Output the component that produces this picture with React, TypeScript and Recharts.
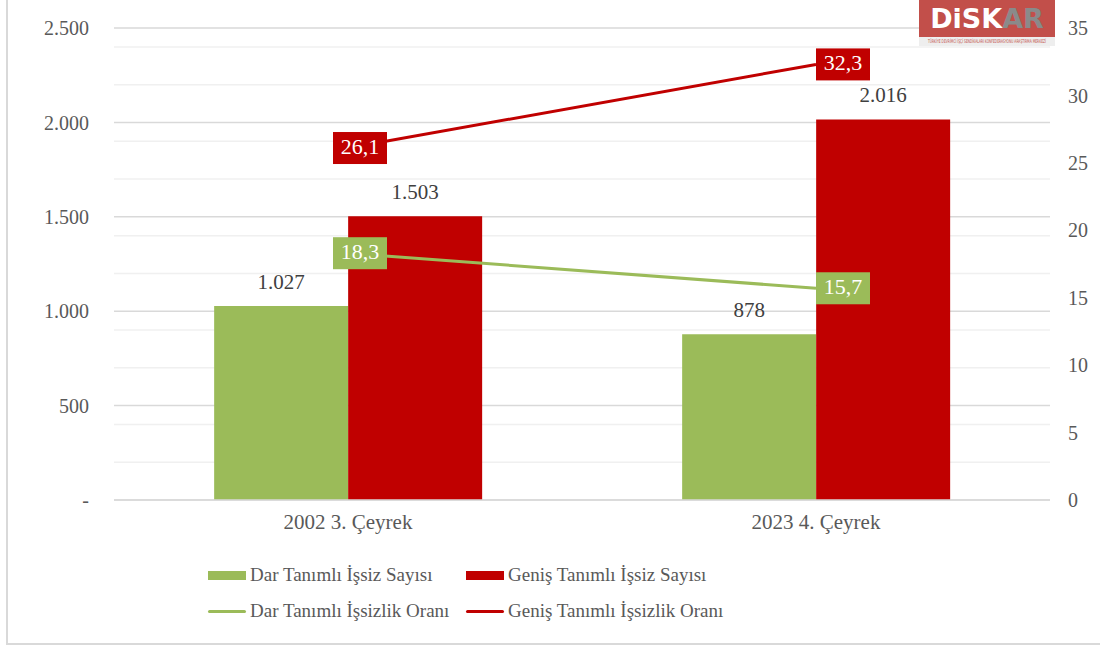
import React from 'react';
import { ComposedChart, Bar, Line, XAxis, YAxis, CartesianGrid, LabelList } from 'recharts';

const categories = ['2002 3. Çeyrek', '2023 4. Çeyrek'];
const darSayisi = [1027, 878];
const genisSayisi = [1503, 2016];
const darOrani = [18.3, 15.7];
const genisOrani = [26.1, 32.3];
const leftTicks = [0, 500, 1000, 1500, 2000, 2500];
const minorTicks = [100, 200, 300, 400, 600, 700, 800, 900, 1100, 1200, 1300, 1400, 1600, 1700, 1800, 1900, 2100, 2200, 2300, 2400];
const rightTicks = [0, 5, 10, 15, 20, 25, 30, 35];

const data = categories.map((c, i) => ({
  cat: c,
  darSayisi: darSayisi[i],
  genisSayisi: genisSayisi[i],
  darOrani: darOrani[i],
  genisOrani: genisOrani[i],
}));

const GREEN = '#9bbb59';
const RED = '#c00000';
const FONT = 'Liberation Serif, serif';
const TXT = '#595959';

const fmtThousands = (v: number) => (v === 0 ? '-' : String(v).replace(/\B(?=(\d{3})+(?!\d))/g, '.'));
const fmtDec = (v: number) => String(v).replace('.', ',');

const makeLineLabel = (fill: string) => (props: any) => {
  const { x, y, value, index } = props;
  const w = 54;
  const h = 32;
  const cx = x + (index === 0 ? 12 : 27);
  return (
    <g>
      <rect x={cx - w / 2} y={y - h / 2} width={w} height={h} fill={fill} />
      <text x={cx} y={y + 1} textAnchor="middle" dominantBaseline="middle" fill="#ffffff" fontSize={22} style={{ fontFamily: FONT }}>
        {fmtDec(value)}
      </text>
    </g>
  );
};

const legendItems = [
  { label: 'Dar Tanımlı İşsiz Sayısı', color: GREEN, kind: 'bar', left: 208, top: 575 },
  { label: 'Geniş Tanımlı İşsiz Sayısı', color: RED, kind: 'bar', left: 466, top: 575 },
  { label: 'Dar Tanımlı İşsizlik Oranı', color: GREEN, kind: 'line', left: 208, top: 611 },
  { label: 'Geniş Tanımlı İşsizlik Oranı', color: RED, kind: 'line', left: 466, top: 611 },
];

export default function App() {
  return (
    <div style={{ position: 'absolute', left: 0, top: 0, width: 1100, height: 647, background: '#fff', overflow: 'hidden', fontFamily: FONT }}>
      <div style={{ position: 'absolute', left: 6, top: -2, width: 1200, height: 647, border: '2px solid #d9d9d9', boxSizing: 'border-box' }} />
      <ComposedChart
        width={1100}
        height={647}
        data={data}
        margin={{ top: 28, right: 0, bottom: 107, left: 0 }}
        barCategoryGap="21.4%"
        barGap={0}
        style={{ position: 'absolute', left: 0, top: 0, fontFamily: FONT }}
      >
        <CartesianGrid yAxisId="left" vertical={false} horizontalValues={minorTicks} stroke="#f0f0f0" strokeWidth={1.5} />
        <CartesianGrid yAxisId="left" vertical={false} horizontalValues={leftTicks} stroke="#d9d9d9" strokeWidth={1.5} />
        <XAxis
          dataKey="cat"
          axisLine={{ stroke: '#d9d9d9', strokeWidth: 1.5 }}
          tickLine={false}
          height={40}
          tickMargin={8}
          tick={{ fill: TXT, fontSize: 21, fontFamily: FONT }}
        />
        <YAxis
          yAxisId="left"
          orientation="left"
          width={114}
          domain={[0, 2500]}
          ticks={leftTicks}
          tickFormatter={fmtThousands}
          axisLine={false}
          tickLine={false}
          tickSize={0}
          tickMargin={25}
          tick={{ fill: TXT, fontSize: 20, fontFamily: FONT }}
        />
        <YAxis
          yAxisId="right"
          orientation="right"
          width={50}
          domain={[0, 35]}
          ticks={rightTicks}
          axisLine={false}
          tickLine={false}
          tickSize={0}
          tickMargin={18}
          tick={{ fill: TXT, fontSize: 20, fontFamily: FONT, textAnchor: 'start' }}
        />
        <Bar yAxisId="left" dataKey="darSayisi" fill={GREEN} isAnimationActive={false}>
          <LabelList dataKey="darSayisi" position="top" offset={17} formatter={(v: any) => fmtThousands(Number(v))} fill="#404040" fontSize={21} fontFamily={FONT} />
        </Bar>
        <Bar yAxisId="left" dataKey="genisSayisi" fill={RED} isAnimationActive={false}>
          <LabelList dataKey="genisSayisi" position="top" offset={17} formatter={(v: any) => fmtThousands(Number(v))} fill="#404040" fontSize={21} fontFamily={FONT} />
        </Bar>
        <Line yAxisId="right" dataKey="darOrani" stroke={GREEN} strokeWidth={3} dot={false} isAnimationActive={false} label={makeLineLabel(GREEN)} />
        <Line yAxisId="right" dataKey="genisOrani" stroke={RED} strokeWidth={3} dot={false} isAnimationActive={false} label={makeLineLabel(RED)} />
      </ComposedChart>

      {legendItems.map((it) => (
        <div key={it.label} style={{ position: 'absolute', left: it.left, top: it.top - 12, height: 24, display: 'flex', alignItems: 'center', fontFamily: FONT, fontSize: 19, color: TXT, whiteSpace: 'nowrap' }}>
          <span style={{ display: 'inline-block', width: 38, height: it.kind === 'bar' ? 9 : 3, background: it.color, borderRadius: it.kind === 'line' ? 2 : 0, marginRight: 4 }} />
          {it.label}
        </div>
      ))}

      <div style={{ position: 'absolute', left: 919, top: 0, width: 136, height: 46 }}>
        <div style={{ height: 37, background: '#c24f4a', display: 'flex', alignItems: 'center', justifyContent: 'center', fontFamily: 'DejaVu Sans, sans-serif', fontWeight: 900, fontSize: 27, lineHeight: '37px' }}>
          <span style={{ color: '#ffffff' }}>DiSK</span>
          <span style={{ color: '#8a8a8a' }}>AR</span>
        </div>
        <svg width={136} height={9} style={{ display: 'block', background: '#eeeeee', overflow: 'visible' }}>
          <g transform="scale(0.6,1)">
            <text x={68 / 0.6} y={6.5} textAnchor="middle" fontSize={5} fill="#c24f4a" style={{ fontFamily: 'DejaVu Sans, sans-serif' }}>
              TÜRKİYE DEVRİMCİ İŞÇİ SENDİKALARI KONFEDERASYONU ARAŞTIRMA MERKEZİ
            </text>
          </g>
        </svg>
      </div>
    </div>
  );
}
